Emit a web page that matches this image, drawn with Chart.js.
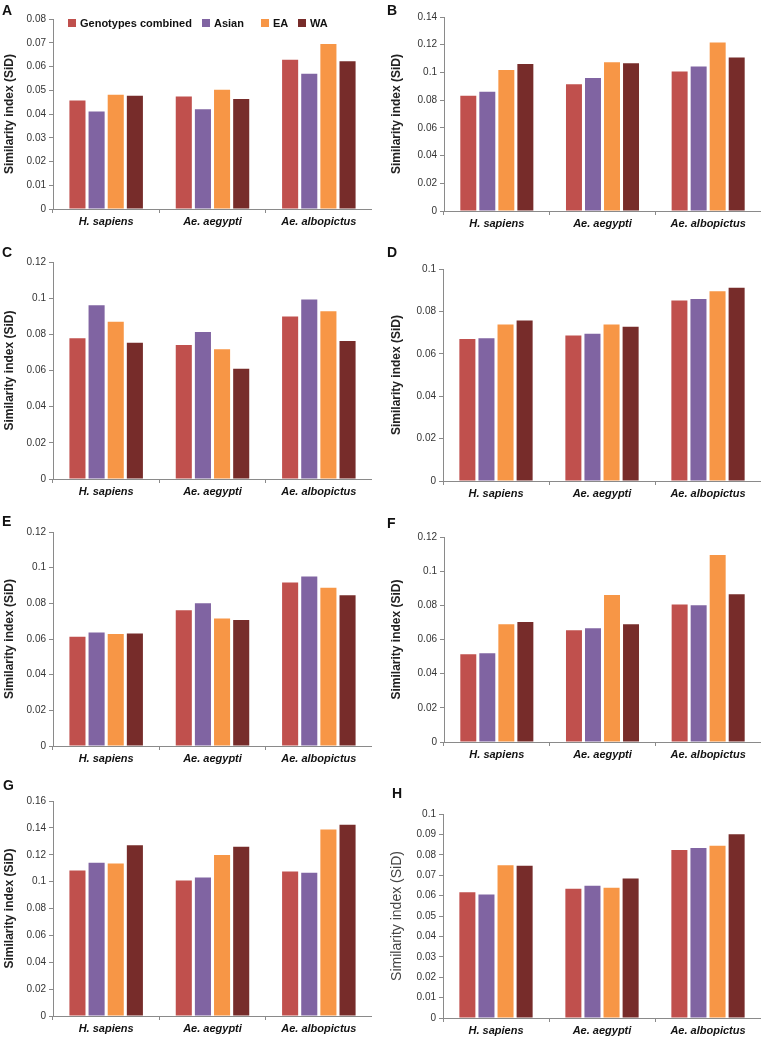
<!DOCTYPE html>
<html>
<head>
<meta charset="utf-8">
<title>Similarity index (SiD)</title>
<script src="https://cdn.jsdelivr.net/npm/chart.js@4.4.0/dist/chart.umd.min.js"></script>
<style>
    html, body {
        margin: 0;
        padding: 0;
        background: #fff;
        width: 764px;
        height: 1038px;
        overflow: hidden;
        position: relative;
        font-family: Arial, 'Liberation Sans', sans-serif;
    }
    .panel { position: absolute; }
    .letter {
        position: absolute;
        font: bold 14px Arial, 'Liberation Sans', sans-serif;
        line-height: 14px;
        color: #111;
    }
    .legend-box { position: absolute; width: 8px; height: 8px; }
    .legend-text {
        position: absolute;
        font: bold 11px Arial, 'Liberation Sans', sans-serif;
        line-height: 12px;
        color: #111;
        white-space: nowrap;
    }
</style>
</head>
<body>
<script>
// ===================================
// DATA
// ===================================

const categories = ['H. sapiens', 'Ae. aegypti', 'Ae. albopictus'];
const seriesNames = ['Genotypes combined', 'Asian', 'EA', 'WA'];

// one row per series: combined, Asian, EA, WA
const panelA = [
    [0.0457, 0.0474, 0.0628],
    [0.0411, 0.0420, 0.0569],
    [0.0481, 0.0502, 0.0695],
    [0.0477, 0.0463, 0.0622]
];
const panelB = [
    [0.0832, 0.0914, 0.1007],
    [0.0861, 0.0959, 0.1043],
    [0.1017, 0.1074, 0.1216],
    [0.1060, 0.1067, 0.1108]
];
const panelC = [
    [0.0778, 0.0741, 0.0899],
    [0.0961, 0.0813, 0.0993],
    [0.0870, 0.0717, 0.0928],
    [0.0754, 0.0609, 0.0763]
];
const panelD = [
    [0.0670, 0.0686, 0.0851],
    [0.0673, 0.0695, 0.0859],
    [0.0738, 0.0738, 0.0895],
    [0.0757, 0.0728, 0.0911]
];
const panelE = [
    [0.0613, 0.0761, 0.0917],
    [0.0637, 0.0800, 0.0950],
    [0.0628, 0.0715, 0.0887],
    [0.0631, 0.0706, 0.0846]
];
const panelF = [
    [0.0513, 0.0654, 0.0805],
    [0.0519, 0.0666, 0.0801],
    [0.0689, 0.0861, 0.1094],
    [0.0703, 0.0689, 0.0865]
];
const panelG = [
    [0.1083, 0.1009, 0.1076],
    [0.1140, 0.1031, 0.1066],
    [0.1135, 0.1198, 0.1388],
    [0.1270, 0.1260, 0.1423]
];
const panelH = [
    [0.0616, 0.0634, 0.0823],
    [0.0605, 0.0648, 0.0833],
    [0.0749, 0.0639, 0.0844],
    [0.0746, 0.0684, 0.0901]
];

const panelIds = ['A', 'B', 'C', 'D', 'E', 'F', 'G', 'H'];
const panelValues = [panelA, panelB, panelC, panelD, panelE, panelF, panelG, panelH];
const yMaxes = [0.08, 0.14, 0.12, 0.1, 0.12, 0.12, 0.16, 0.1];
const ySteps = [0.01, 0.02, 0.02, 0.02, 0.02, 0.02, 0.02, 0.01];

// ===================================
// LAYOUT / STYLE
// ===================================

const seriesColors = ['#C0504D', '#8064A2', '#F79646', '#772C2A'];
const FONT = "Arial, 'Liberation Sans', sans-serif";
const X_AXIS_H = 20;
const TOP_PAD = 8;

// left edge of panel, y axis line, top/bottom of plot, right end of x axis
const frames = [
    { left: 0,   axis: 53,  top: 18,  bottom: 209,  right: 372 },
    { left: 387, axis: 444, top: 16,  bottom: 211,  right: 761 },
    { left: 0,   axis: 53,  top: 261, bottom: 479,  right: 372 },
    { left: 387, axis: 443, top: 268, bottom: 481,  right: 761 },
    { left: 0,   axis: 53,  top: 531, bottom: 746,  right: 372 },
    { left: 387, axis: 444, top: 536, bottom: 742,  right: 761 },
    { left: 0,   axis: 53,  top: 800, bottom: 1016, right: 372 },
    { left: 387, axis: 443, top: 813, bottom: 1018, right: 761 }
];
const letterSpots = [[2, 3], [387, 3], [2, 245], [387, 245], [2, 514], [387, 516], [3, 778], [392, 786]];

// legend of panel A: x of each colour box
const legendX = [68, 202, 261, 298];
const legendY = 19;

// ===================================
// BUILD
// ===================================

function addText(cls, text, x, y) {
    const el = document.createElement('div');
    el.className = cls;
    el.textContent = text;
    el.style.left = x + 'px';
    el.style.top = y + 'px';
    document.body.appendChild(el);
    return el;
}

function makePanel(i) {
    const f = frames[i];
    const width = f.right - f.left;
    const height = f.bottom - f.top + TOP_PAD + X_AXIS_H;
    const yAxisW = f.axis - f.left;

    const canvas = document.createElement('canvas');
    canvas.className = 'panel';
    canvas.width = width;
    canvas.height = height;
    canvas.style.left = f.left + 'px';
    canvas.style.top = (f.top - TOP_PAD) + 'px';
    document.body.appendChild(canvas);

    const plainTitle = panelIds[i] === 'H';

    new Chart(canvas, {
        type: 'bar',
        data: {
            labels: categories,
            datasets: seriesNames.map((name, s) => ({
                label: name,
                data: panelValues[i][s],
                backgroundColor: seriesColors[s],
                borderWidth: 0,
                categoryPercentage: 0.72,
                barPercentage: 0.84
            }))
        },
        options: {
            responsive: false,
            animation: false,
            layout: { padding: 0 },
            plugins: {
                legend: { display: false },
                tooltip: { enabled: false }
            },
            scales: {
                x: {
                    afterFit: s => { s.height = X_AXIS_H; },
                    border: { color: '#8a8a8a', width: 1 },
                    grid: {
                        drawOnChartArea: false,
                        drawTicks: true,
                        tickLength: 4,
                        offset: true,
                        color: '#8a8a8a'
                    },
                    ticks: {
                        padding: 2,
                        color: '#111',
                        font: { family: FONT, size: 11, weight: 'bold', style: 'italic' },
                        maxRotation: 0
                    }
                },
                y: {
                    min: 0,
                    max: yMaxes[i],
                    afterFit: s => { s.width = yAxisW; },
                    border: { color: '#8a8a8a', width: 1 },
                    grid: {
                        drawOnChartArea: false,
                        drawTicks: true,
                        tickLength: 4,
                        color: '#8a8a8a'
                    },
                    ticks: {
                        stepSize: ySteps[i],
                        padding: 3,
                        color: '#333',
                        font: { family: FONT, size: 10 },
                        callback: v => String(+v.toFixed(3))
                    },
                    title: {
                        display: true,
                        text: 'Similarity index (SiD)',
                        color: plainTitle ? '#444' : '#222',
                        padding: { top: 2, bottom: 2 },
                        font: plainTitle
                            ? { family: FONT, size: 14, weight: 'normal' }
                            : { family: FONT, size: 12, weight: 'bold' }
                    }
                }
            }
        }
    });

    addText('letter', panelIds[i], letterSpots[i][0], letterSpots[i][1]);
}

function makeLegend() {
    seriesNames.forEach((name, s) => {
        const box = document.createElement('div');
        box.className = 'legend-box';
        box.style.left = legendX[s] + 'px';
        box.style.top = legendY + 'px';
        box.style.background = seriesColors[s];
        document.body.appendChild(box);
        addText('legend-text', name, legendX[s] + 12, legendY - 2);
    });
}

panelIds.forEach((id, i) => makePanel(i));
makeLegend();
</script>
</body>
</html>
